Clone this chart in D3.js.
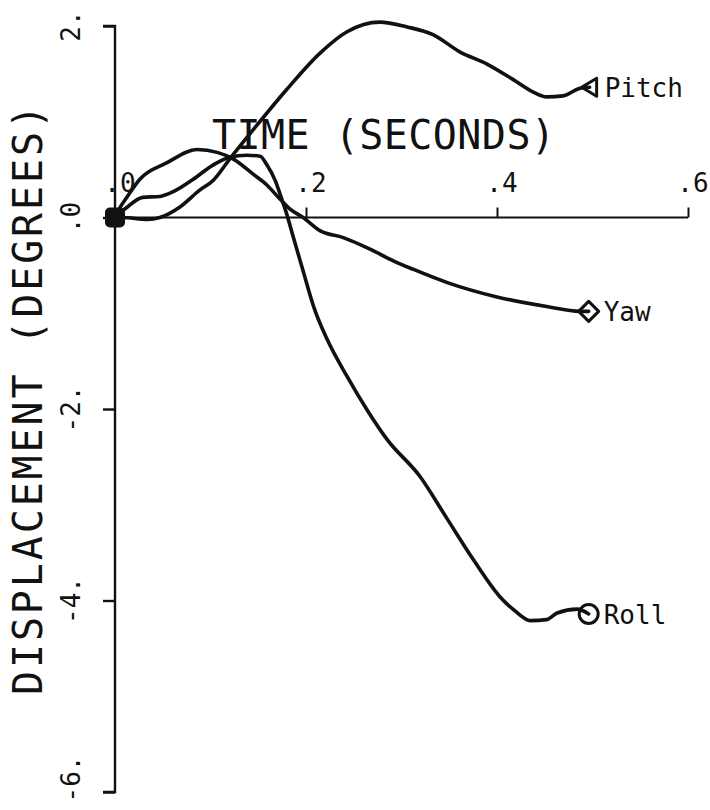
<!DOCTYPE html>
<html>
<head>
<meta charset="utf-8">
<script src="https://cdn.jsdelivr.net/npm/d3@7"></script>
<style>
  html, body { margin: 0; padding: 0; background: #fff; }
  svg { display: block; }
  text { font-family: "DejaVu Sans Mono", monospace; fill: #111; }
</style>
</head>
<body>
<svg id="chart" width="710" height="810"></svg>
<script>
// ---- data ----
const xTicks = [0, 0.2, 0.4, 0.6];
const xTickLabels = [".0", ".2", ".4", ".6"];
const yTicks = [2, 0, -2, -4, -6];
const yTickLabels = ["2.", ".0", "-2.", "-4.", "-6."];
const seriesNames = ["Pitch", "Yaw", "Roll"];

const pitch = [
  [0, 0], [0.008, 0], [0.034, -0.02], [0.047, 0], [0.068, 0.11], [0.088, 0.28],
  [0.103, 0.39], [0.120, 0.61], [0.145, 0.92], [0.180, 1.34], [0.215, 1.72],
  [0.243, 1.94], [0.277, 2.04], [0.306, 1.99], [0.333, 1.91], [0.361, 1.73],
  [0.390, 1.60], [0.417, 1.44], [0.438, 1.31], [0.452, 1.26], [0.469, 1.27],
  [0.487, 1.35], [0.497, 1.36]
];
const yaw = [
  [0, 0], [0.005, 0.10], [0.013, 0.22], [0.026, 0.40], [0.054, 0.57],
  [0.086, 0.71], [0.107, 0.68], [0.124, 0.61], [0.145, 0.45], [0.159, 0.34],
  [0.173, 0.19], [0.183, 0.09], [0.197, 0], [0.215, -0.14], [0.239, -0.21],
  [0.267, -0.33], [0.293, -0.46], [0.312, -0.54], [0.348, -0.68], [0.400, -0.83],
  [0.452, -0.93], [0.487, -0.98], [0.496, -0.98]
];
const roll = [
  [0, 0], [0.013, 0.11], [0.029, 0.21], [0.047, 0.22], [0.061, 0.27],
  [0.082, 0.40], [0.103, 0.55], [0.120, 0.63], [0.138, 0.65], [0.152, 0.64],
  [0.159, 0.55], [0.168, 0.38], [0.173, 0.24], [0.180, 0.03], [0.186, -0.18],
  [0.197, -0.56], [0.209, -0.96], [0.222, -1.27], [0.243, -1.66], [0.264, -2.01],
  [0.285, -2.32], [0.319, -2.70], [0.348, -3.15], [0.375, -3.57], [0.403, -3.96],
  [0.419, -4.11], [0.435, -4.21], [0.452, -4.20], [0.463, -4.13], [0.484, -4.09],
  [0.496, -4.14]
];
const seriesData = [pitch, yaw, roll];
const markerTypes = ["triangle", "diamond", "circle"];

// ---- scales ----
const svg = d3.select("#chart");
const x = d3.scaleLinear().domain([0, 0.6]).range([115, 688]);
const y = d3.scaleLinear().domain([-6, 2]).range([792, 26]);

const ink = "#111";

// ---- y axis ----
const yAxis = d3.axisLeft(y).tickValues(yTicks).tickSize(12).tickFormat("");
const gy = svg.append("g").attr("transform", `translate(${x(0)},0)`).call(yAxis);
gy.select(".domain").attr("stroke", ink).attr("stroke-width", 2.4).attr("d", `M-12,${y(2)}H0V${y(-6)}H-12`);
gy.selectAll(".tick line").attr("stroke", ink).attr("stroke-width", 2.4);

// ---- x axis ----
const xAxis = d3.axisTop(x).tickValues(xTicks.slice(1)).tickSize(10).tickFormat("");
const gx = svg.append("g").attr("transform", `translate(0,${y(0)})`).call(xAxis);
gx.select(".domain").attr("stroke", ink).attr("stroke-width", 2).attr("d", `M${x(0)},0H${x(0.6)}`);
gx.selectAll(".tick line").attr("stroke", ink).attr("stroke-width", 2);

// x tick labels
svg.append("g").selectAll("text").data(xTicks).join("text")
  .attr("x", d => x(d) + 5)
  .attr("y", y(0) - 26)
  .attr("text-anchor", "middle")
  .attr("font-size", 26)
  .text((d, i) => xTickLabels[i]);

// y tick labels (rotated); lowest one nudged up to stay inside the frame as in the reference
svg.append("g").selectAll("text").data(yTicks).join("text")
  .attr("transform", d => `translate(80,${Math.min(y(d), 779)}) rotate(-90)`)
  .attr("text-anchor", "middle")
  .attr("font-size", 26)
  .text((d, i) => yTickLabels[i]);

// axis titles
svg.append("text")
  .attr("x", 212).attr("y", 149)
  .attr("font-size", 40)
  .attr("textLength", 343).attr("lengthAdjust", "spacing")
  .text("TIME (SECONDS)");

svg.append("text")
  .attr("transform", "translate(42,400) rotate(-90)")
  .attr("text-anchor", "middle")
  .attr("font-size", 40)
  .attr("textLength", 590).attr("lengthAdjust", "spacing")
  .text("DISPLACEMENT (DEGREES)");

// ---- lines ----
const line = d3.line().x(d => x(d[0])).y(d => y(d[1])).curve(d3.curveMonotoneX);
svg.append("g").selectAll("path").data(seriesData).join("path")
  .attr("d", line)
  .attr("fill", "none")
  .attr("stroke", ink)
  .attr("stroke-width", 3.6)
  .attr("stroke-linejoin", "round")
  .attr("stroke-linecap", "round");

// start marker
svg.append("rect")
  .attr("x", x(0) - 10).attr("y", y(0) - 10)
  .attr("width", 20).attr("height", 20).attr("rx", 5)
  .attr("fill", ink);

// end markers + labels
seriesData.forEach((s, i) => {
  const last = s[s.length - 1];
  const cx = x(last[0]), cy = y(last[1]);
  const t = markerTypes[i];
  let m;
  if (t === "triangle") {
    m = svg.append("path").attr("d", `M${cx - 8},${cy}L${cx + 7},${cy - 9}L${cx + 7},${cy + 9}Z`);
  } else if (t === "diamond") {
    m = svg.append("path").attr("d", `M${cx},${cy - 10}L${cx + 10},${cy}L${cx},${cy + 10}L${cx - 10},${cy}Z`);
  } else {
    m = svg.append("circle").attr("cx", cx).attr("cy", cy).attr("r", 9.5);
  }
  m.attr("fill", "none").attr("stroke", ink).attr("stroke-width", 3).attr("stroke-linejoin", "round");
  svg.append("text")
    .attr("x", cx + 15).attr("y", cy + 10)
    .attr("font-size", 26)
    .text(seriesNames[i]);
});
</script>
</body>
</html>
